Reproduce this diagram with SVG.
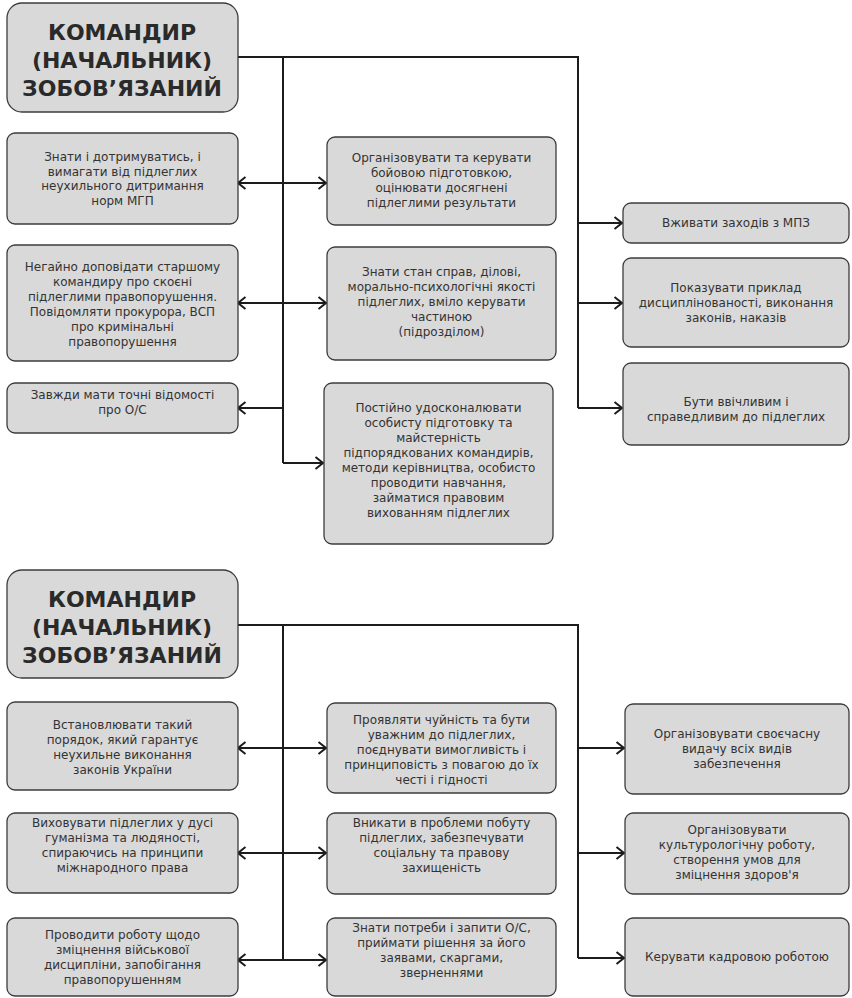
<svg xmlns="http://www.w3.org/2000/svg" width="852" height="998" viewBox="0 0 852 998">
<style>
.box{fill:#d9d9d9;stroke:#3c3c3c;stroke-width:1.3}
.hd{font-family:"DejaVu Sans","Open Sans",sans-serif;font-weight:700;font-size:22px;fill:#2a2a2a;text-anchor:middle}
.t{font-family:"DejaVu Sans","Noto Sans",sans-serif;font-size:12px;fill:#333;text-anchor:middle}
.ln{stroke:#1c1c1c;stroke-width:2;fill:none}
.ar{stroke:#1c1c1c;stroke-width:2;fill:none;marker-end:url(#ah)}
.dar{stroke:#1c1c1c;stroke-width:2;fill:none;marker-start:url(#ah);marker-end:url(#ah)}
</style>
<defs>
<marker id="ah" viewBox="0 0 10 14" refX="9" refY="7" markerWidth="10" markerHeight="14" markerUnits="userSpaceOnUse" orient="auto-start-reverse">
<path d="M1.5,1 L9,7 L1.5,13" fill="none" stroke="#1c1c1c" stroke-width="2"/>
</marker>
</defs>
<rect width="852" height="998" fill="#ffffff"/>

<g id="connectors">
<path class="ln" d="M238,57 H578 V408 M283,57 V463"/>
<line class="dar" x1="238" y1="183" x2="326" y2="183"/>
<line class="dar" x1="238" y1="303" x2="326" y2="303"/>
<line class="ar" x1="283" y1="408" x2="238" y2="408"/>
<line class="ar" x1="283" y1="463" x2="323" y2="463"/>
<line class="ar" x1="578" y1="223" x2="622" y2="223"/>
<line class="ar" x1="578" y1="303" x2="622" y2="303"/>
<line class="ar" x1="578" y1="408" x2="622" y2="408"/>

<path class="ln" d="M238,625 H578 V958 M283,625 V960"/>
<line class="dar" x1="238" y1="748" x2="326" y2="748"/>
<line class="dar" x1="238" y1="853" x2="326" y2="853"/>
<line class="dar" x1="238" y1="960" x2="326" y2="960"/>
<line class="ar" x1="578" y1="748" x2="624" y2="748"/>
<line class="ar" x1="578" y1="853" x2="624" y2="853"/>
<line class="ar" x1="578" y1="958" x2="624" y2="958"/>
</g>

<g id="header1">
<rect class="box" x="7" y="3" width="231" height="109" rx="15"/>
<text class="hd" x="122" y="40">КОМАНДИР</text>
<text class="hd" x="122" y="68">(НАЧАЛЬНИК)</text>
<text class="hd" x="122" y="96">ЗОБОВ’ЯЗАНИЙ</text>
</g>

<g id="a-l1">
<rect class="box" x="7" y="133" width="231" height="91" rx="8"/>
<text class="t"><tspan x="122.5" y="161">Знати і дотримуватись, і</tspan><tspan x="122.5" y="175.5">вимагати від підлеглих</tspan><tspan x="122.5" y="190">неухильного дитримання</tspan><tspan x="122.5" y="204.5">норм МГП</tspan></text>
</g>
<g id="a-l2">
<rect class="box" x="7" y="245" width="231" height="116" rx="8"/>
<text class="t"><tspan x="122.5" y="271">Негайно доповідати старшому</tspan><tspan x="122.5" y="286">командиру про скоєні</tspan><tspan x="122.5" y="301">підлеглими правопорушення.</tspan><tspan x="122.5" y="316">Повідомляти прокурора, ВСП</tspan><tspan x="122.5" y="331">про кримінальні</tspan><tspan x="122.5" y="346">правопорушення</tspan></text>
</g>
<g id="a-l3">
<rect class="box" x="7" y="383" width="231" height="50" rx="8"/>
<text class="t"><tspan x="122.5" y="399">Завжди мати точні відомості</tspan><tspan x="122.5" y="414">про О/С</tspan></text>
</g>
<g id="a-m1">
<rect class="box" x="327" y="137" width="229" height="88" rx="8"/>
<text class="t"><tspan x="441.5" y="162">Організовувати та керувати</tspan><tspan x="441.5" y="177">бойовою підготовкою,</tspan><tspan x="441.5" y="192">оцінювати досягнені</tspan><tspan x="441.5" y="207">підлеглими результати</tspan></text>
</g>
<g id="a-m2">
<rect class="box" x="327" y="247" width="229" height="113" rx="8"/>
<text class="t"><tspan x="441.5" y="276">Знати стан справ, ділові,</tspan><tspan x="441.5" y="291">морально-психологічні якості</tspan><tspan x="441.5" y="306">підлеглих, вміло керувати</tspan><tspan x="441.5" y="321">частиною</tspan><tspan x="441.5" y="336">(підрозділом)</tspan></text>
</g>
<g id="a-m3">
<rect class="box" x="324" y="383" width="229" height="161" rx="8"/>
<text class="t"><tspan x="438.5" y="412">Постійно удосконалювати</tspan><tspan x="438.5" y="427">особисту підготовку та</tspan><tspan x="438.5" y="442">майстерність</tspan><tspan x="438.5" y="457">підпорядкованих командирів,</tspan><tspan x="438.5" y="472">методи керівництва, особисто</tspan><tspan x="438.5" y="487">проводити навчання,</tspan><tspan x="438.5" y="502">займатися правовим</tspan><tspan x="438.5" y="517">вихованням підлеглих</tspan></text>
</g>
<g id="a-r1">
<rect class="box" x="623" y="203" width="226" height="40" rx="8"/>
<text class="t" x="736" y="227">Вживати заходів з МПЗ</text>
</g>
<g id="a-r2">
<rect class="box" x="623" y="258" width="226" height="89" rx="8"/>
<text class="t"><tspan x="736" y="292">Показувати приклад</tspan><tspan x="736" y="307">дисциплінованості, виконання</tspan><tspan x="736" y="322">законів, наказів</tspan></text>
</g>
<g id="a-r3">
<rect class="box" x="623" y="363" width="226" height="82" rx="8"/>
<text class="t"><tspan x="736" y="406">Бути ввічливим і</tspan><tspan x="736" y="421">справедливим до підлеглих</tspan></text>
</g>

<g id="header2">
<rect class="box" x="7" y="570" width="231" height="108" rx="15"/>
<text class="hd" x="122" y="607">КОМАНДИР</text>
<text class="hd" x="122" y="635">(НАЧАЛЬНИК)</text>
<text class="hd" x="122" y="663">ЗОБОВ’ЯЗАНИЙ</text>
</g>

<g id="b-l1">
<rect class="box" x="7" y="702" width="231" height="88" rx="8"/>
<text class="t"><tspan x="122.5" y="729">Встановлювати такий</tspan><tspan x="122.5" y="744">порядок, який гарантує</tspan><tspan x="122.5" y="759">неухильне виконання</tspan><tspan x="122.5" y="774">законів України</tspan></text>
</g>
<g id="b-l2">
<rect class="box" x="7" y="813" width="231" height="80" rx="8"/>
<text class="t"><tspan x="122.5" y="827">Виховувати підлеглих у дусі</tspan><tspan x="122.5" y="842">гуманізма та людяності,</tspan><tspan x="122.5" y="857">спираючись на принципи</tspan><tspan x="122.5" y="872">міжнародного права</tspan></text>
</g>
<g id="b-l3">
<rect class="box" x="7" y="918" width="231" height="78" rx="8"/>
<text class="t"><tspan x="122.5" y="939">Проводити роботу щодо</tspan><tspan x="122.5" y="954">зміцнення військової</tspan><tspan x="122.5" y="969">дисципліни, запобігання</tspan><tspan x="122.5" y="984">правопорушенням</tspan></text>
</g>
<g id="b-m1">
<rect class="box" x="327" y="703" width="229" height="90" rx="8"/>
<text class="t"><tspan x="441.5" y="724">Проявляти чуйність та бути</tspan><tspan x="441.5" y="739">уважним до підлеглих,</tspan><tspan x="441.5" y="754">поєднувати вимогливість і</tspan><tspan x="441.5" y="769">принциповість з повагою до їх</tspan><tspan x="441.5" y="784">честі і гідності</tspan></text>
</g>
<g id="b-m2">
<rect class="box" x="327" y="813" width="229" height="81" rx="8"/>
<text class="t"><tspan x="441.5" y="827">Вникати в проблеми побуту</tspan><tspan x="441.5" y="842">підлеглих, забезпечувати</tspan><tspan x="441.5" y="857">соціальну та правову</tspan><tspan x="441.5" y="872">захищеність</tspan></text>
</g>
<g id="b-m3">
<rect class="box" x="327" y="918" width="229" height="78" rx="8"/>
<text class="t"><tspan x="441.5" y="932">Знати потреби і запити О/С,</tspan><tspan x="441.5" y="947">приймати рішення за його</tspan><tspan x="441.5" y="962">заявами, скаргами,</tspan><tspan x="441.5" y="977">зверненнями</tspan></text>
</g>
<g id="b-r1">
<rect class="box" x="625" y="704" width="224" height="90" rx="8"/>
<text class="t"><tspan x="737" y="738">Організовувати своєчасну</tspan><tspan x="737" y="753">видачу всіх видів</tspan><tspan x="737" y="768">забезпечення</tspan></text>
</g>
<g id="b-r2">
<rect class="box" x="625" y="813" width="224" height="81" rx="8"/>
<text class="t"><tspan x="737" y="834">Організовувати</tspan><tspan x="737" y="849">культурологічну роботу,</tspan><tspan x="737" y="864">створення умов для</tspan><tspan x="737" y="879">зміцнення здоров'я</tspan></text>
</g>
<g id="b-r3">
<rect class="box" x="625" y="918" width="224" height="78" rx="8"/>
<text class="t" x="737" y="961">Керувати кадровою роботою</text>
</g>
</svg>
